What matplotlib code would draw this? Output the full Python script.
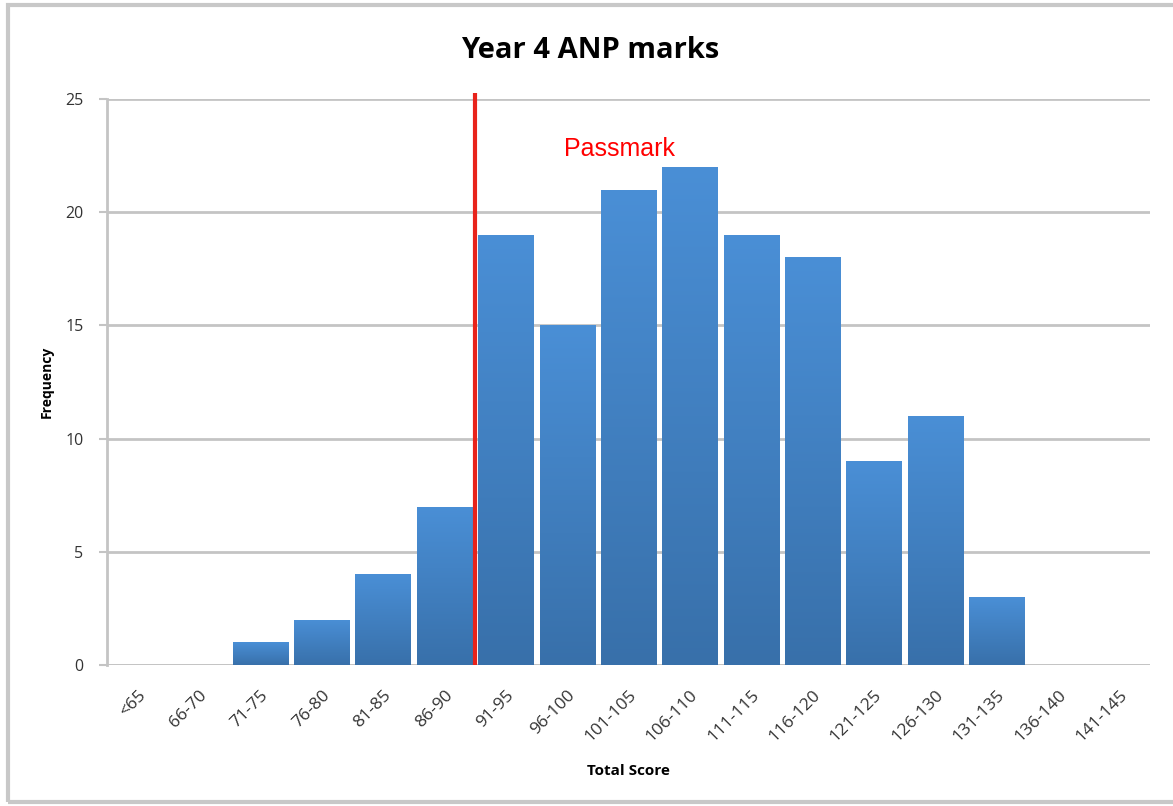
import matplotlib
matplotlib.use("Agg")
import matplotlib.pyplot as plt
import numpy as np
from matplotlib.patches import Rectangle
from matplotlib.colors import LinearSegmentedColormap

# Score bands and the number of students in each band
categories = ["<65", "66-70", "71-75", "76-80", "81-85", "86-90", "91-95",
              "96-100", "101-105", "106-110", "111-115", "116-120", "121-125",
              "126-130", "131-135", "136-140", "141-145"]
frequency = [0, 0, 1, 2, 4, 7, 19, 15, 21, 22, 19, 18, 9, 11, 3, 0, 0]
y_ticks = [0, 5, 10, 15, 20, 25]
passmark_position = 5.5  # boundary between 86-90 and 91-95

fig = plt.figure(figsize=(11.73, 8.06), dpi=100)
ax = fig.add_axes([107 / 1173, 1 - 665 / 806, (1150 - 107) / 1173, (665 - 99) / 806])

x = np.arange(len(categories))
bars = ax.bar(x, frequency, width=0.9, color="#4385c9", edgecolor="none", zorder=2)

# vertical gradient fill for each bar
grad = np.linspace(0, 1, 256).reshape(-1, 1)
cmap = LinearSegmentedColormap.from_list("bar", ["#3870aa", "#4a8fd6"])
for b in bars:
    h = b.get_height()
    if h <= 0:
        continue
    x0 = b.get_x()
    w = b.get_width()
    im = ax.imshow(grad, extent=[x0, x0 + w, 0, h], origin="lower",
                   cmap=cmap, aspect="auto", zorder=3, interpolation="bilinear")
    im.set_clip_path(b)

ax.set_xlim(-0.5, len(categories) - 0.5)
ax.set_ylim(0, 25)

# passmark line
ax.plot([passmark_position, passmark_position], [0, 25.25], color="#e8231b",
        lw=3, zorder=5, clip_on=False, solid_capstyle="butt")
ax.text(7.85, 22.8, "Passmark", color="#ff0000", fontsize=18,
        family="Liberation Sans", ha="center", va="center", zorder=6)

# gridlines and axes styling
ax.set_yticks(y_ticks)
ax.yaxis.grid(True, color="#c4c4c4", lw=2, zorder=0)
ax.set_axisbelow(True)
for s in ["top", "right", "bottom"]:
    ax.spines[s].set_visible(False)
ax.spines["left"].set_color("#c4c4c4")
ax.spines["left"].set_linewidth(2)
ax.axhline(0, color="#c4c4c4", lw=2, zorder=1)

ax.tick_params(axis="y", length=6, width=1.5, color="#c4c4c4", pad=11,
               labelsize=11.5, labelcolor="#333333")
ax.tick_params(axis="x", length=0, pad=16, labelsize=12.5, labelcolor="#333333")
for lbl in ax.get_yticklabels():
    lbl.set_family("Open Sans")

ax.set_xticks(x)
ax.set_xticklabels(categories, rotation=45, ha="right", rotation_mode="anchor",
                   family="Open Sans")

ax.set_ylabel("Frequency", fontsize=10, fontweight="bold", family="Open Sans",
              labelpad=8)
ax.set_xlabel("Total Score", fontsize=11, fontweight="bold", family="Open Sans",
              labelpad=14)

fig.text(590 / 1173, 1 - 50 / 806, "Year 4 ANP marks", fontsize=21,
         fontweight="bold", family="Open Sans", ha="center", va="center")

# outer frame
fig.patches.append(Rectangle((8 / 1173, 1 - 802 / 806), 1.2, (802 - 5) / 806,
                             transform=fig.transFigure, fill=False,
                             edgecolor="#c8c8c8", lw=3))

fig.savefig("out.png", dpi=100)
